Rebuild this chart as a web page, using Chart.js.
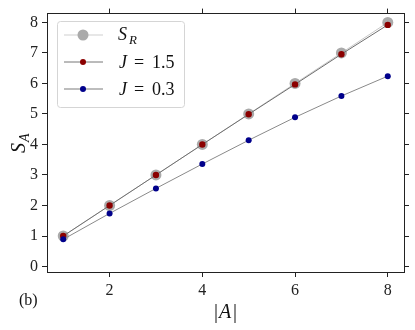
<!DOCTYPE html>
<html><head><meta charset="utf-8">
<script src="https://cdn.jsdelivr.net/npm/chart.js@4"></script>
<style>html,body{margin:0;padding:0;background:#fff}</style>
</head><body>
<canvas id="c" width="415" height="330"></canvas>
<script>
const sizes = [1,2,3,4,5,6,7,8];
const seriesSR = [1,2,3,4,5,6,7,8];
const seriesJ15 = [1.0,2.0,3.0,4.0,4.99,5.97,6.96,7.92];
const seriesJ03 = [0.89,1.74,2.56,3.36,4.14,4.89,5.59,6.24];
const xTicks = [2,4,6,8];
const yTicks = [0,1,2,3,4,5,6,7,8];

const FONT = '"Liberation Serif", "DejaVu Serif", serif';
function pts(vals){ return sizes.map((x,i)=>({x:x,y:vals[i]})); }

const textPlugin = {
  id:'texts',
  afterDraw(chart){
    const ctx = chart.ctx;
    ctx.save();
    ctx.fillStyle = '#111';
    ctx.textBaseline = 'alphabetic';
    ctx.textAlign = 'left';
    // y label S_A
    ctx.save();
    ctx.translate(25, 141);
    ctx.rotate(-Math.PI/2);
    ctx.font = 'italic 20px ' + FONT;
    ctx.fillText('S', -12, 0);
    ctx.font = 'italic 14px ' + FONT;
    ctx.fillText('A', -1, 4);
    ctx.restore();
    // x label |A|
    ctx.font = '20px ' + FONT;
    ctx.fillText('|', 214, 318);
    ctx.font = 'italic 20px ' + FONT;
    ctx.fillText('A', 219, 318);
    ctx.font = '20px ' + FONT;
    ctx.fillText('|', 233, 318);
    // (b)
    ctx.font = '16px ' + FONT;
    ctx.fillText('(b)', 19, 305);

    // legend
    const bx=57, by=21, bw=127, bh=86;
    ctx.beginPath();
    if (ctx.roundRect) ctx.roundRect(bx+0.5,by+0.5,bw,bh,3); else ctx.rect(bx+0.5,by+0.5,bw,bh);
    ctx.fillStyle='rgba(255,255,255,0.85)';
    ctx.fill();
    ctx.strokeStyle='#d5d5d5';
    ctx.lineWidth=1;
    ctx.stroke();
    const entries = [
      {y:35, line:'#cfcfcf', lw:1, mc:'#aaaaaa', r:5.5},
      {y:62, line:'#777777', lw:1, mc:'#8b0000', r:3},
      {y:89, line:'#bdbdbd', lw:2, mc:'#00008b', r:3}
    ];
    entries.forEach(e=>{
      ctx.beginPath(); ctx.moveTo(64,e.y); ctx.lineTo(103,e.y);
      ctx.strokeStyle=e.line; ctx.lineWidth=e.lw; ctx.stroke();
      ctx.beginPath(); ctx.arc(83,e.y,e.r,0,Math.PI*2); ctx.fillStyle=e.mc; ctx.fill();
    });
    ctx.fillStyle='#111';
    ctx.font='italic 18px ' + FONT;
    ctx.fillText('S', 118, 40);
    ctx.font='italic 13px ' + FONT;
    ctx.fillText('R', 129, 44);
    ctx.font='italic 18px ' + FONT;
    ctx.fillText('J', 119, 68);
    ctx.fillText('J', 119, 95);
    ctx.font='18px ' + FONT;
    ctx.fillText('=', 134, 68);
    ctx.fillText('=', 134, 95);
    ctx.fillText('1.5', 152, 68);
    ctx.fillText('0.3', 152, 95);
    ctx.restore();
  }
};

function fixTicks(list){ return function(axis){ axis.ticks = list.map(v=>({value:v})); }; }
function fit(prop,val){ return function(s){ s[prop]=val; }; }
const gridOpts = {display:true, drawOnChartArea:false, drawTicks:true, tickLength:5, tickColor:'#222', tickWidth:1};
const borderOpts = {display:true, color:'#222', width:1};
const tickFont = {family:FONT, size:16};

new Chart(document.getElementById('c'), {
  type:'scatter',
  data:{datasets:[
    {label:'J=0.3', data:pts(seriesJ03), showLine:true, borderColor:'#8a8a8a', borderWidth:1,
     pointRadius:3, pointBackgroundColor:'#00008b', pointBorderWidth:0, order:1},
    {label:'J=1.5', data:pts(seriesJ15), showLine:true, borderColor:'#6e6e6e', borderWidth:1,
     pointRadius:3.2, pointBackgroundColor:'#8b0000', pointBorderWidth:0, order:2},
    {label:'SR', data:pts(seriesSR), showLine:true, borderColor:'#c8c8c8', borderWidth:1,
     pointRadius:5.5, pointBackgroundColor:'#aaaaaa', pointBorderWidth:0, order:3}
  ]},
  options:{
    responsive:false, animation:false, devicePixelRatio:1,
    layout:{padding:0},
    plugins:{legend:{display:false}, tooltip:{enabled:false}},
    scales:{
      x:{type:'linear', position:'bottom', min:0.65, max:8.35,
         afterBuildTicks:fixTicks(xTicks), afterFit:fit('height',58),
         grid:gridOpts, border:borderOpts,
         ticks:{font:tickFont, color:'#222', padding:4, maxRotation:0}},
      x2:{type:'linear', position:'top', min:0.65, max:8.35,
         afterBuildTicks:fixTicks(xTicks), afterFit:fit('height',12),
         grid:gridOpts, border:borderOpts, ticks:{display:false}},
      y:{type:'linear', position:'left', min:-0.18, max:8.29,
         afterBuildTicks:fixTicks(yTicks), afterFit:fit('width',47),
         grid:gridOpts, border:borderOpts,
         ticks:{font:tickFont, color:'#222', padding:4}},
      y2:{type:'linear', position:'right', min:-0.18, max:8.29,
         afterBuildTicks:fixTicks(yTicks), afterFit:fit('width',11),
         grid:gridOpts, border:borderOpts, ticks:{display:false}}
    }
  },
  plugins:[textPlugin]
});
</script>
</body></html>
